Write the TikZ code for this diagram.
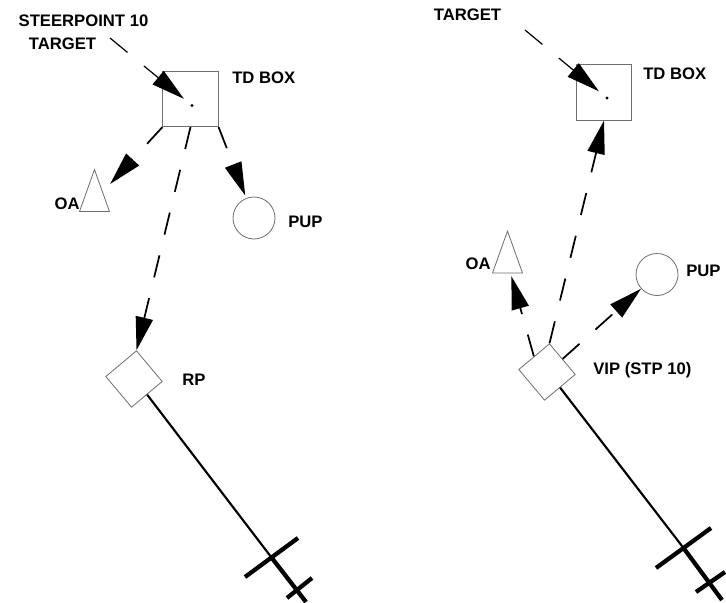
\documentclass[tikz,border=0pt]{standalone}
\usepackage{fontspec}
\setmainfont{Liberation Sans}
\usetikzlibrary{arrows.meta,shapes.geometric}
\definecolor{grey}{cmyk}{0,0,0,0.65}

\begin{document}
\begin{tikzpicture}[x=0.75pt,y=-0.75pt]
    \tikzset{%
      tdbox/.style={rectangle, draw=grey, line width=0.6pt, inner sep=0pt,
        minimum size=41.5pt},
      aim/.style={circle, fill=black, inner sep=0pt, minimum size=2.4pt},
      fix/.style={rectangle, draw=grey, line width=0.6pt, inner sep=0pt,
        minimum size=30pt, rotate=40},
      obst/.style={isosceles triangle, isosceles triangle stretches,
        shape border rotate=90, draw=grey, line width=0.6pt, inner sep=0pt,
        minimum width=22.5pt, minimum height=31.5pt},
      popup/.style={circle, draw=grey, line width=0.6pt, inner sep=0pt,
        minimum size=31.5pt},
      lbl/.style={font=\fontsize{12.5}{14}\selectfont\bfseries, inner sep=0pt},
      leg/.style={line width=1.3pt, dash pattern=on 17pt off 16pt,
        -{Triangle[length=25pt,width=13pt]}},
      cue/.style={line width=0.9pt, dash pattern=on 17pt off 16pt,
        -{Triangle[length=25pt,width=13pt]}},
      track/.style={line width=1.6pt},
      jet/.style={line width=3.2pt},
    }
    \useasboundingbox (0,0) rectangle (726,603);

    % left: steerpoint is the target
    \node[lbl] (stpL) at (83.5,21) {STEERPOINT 10};
    \node[lbl] (tgtL) at (62.5,43.5) {TARGET};
    \node[tdbox] (tdL) at (190.5,99) {};
    \node[aim] (dotL) at (192,105.5) {};
    \node[lbl, anchor=west] (tdlblL) at (232,77.5) {TD BOX};
    \node[obst] (oaL) at (94.5,201) {};
    \node[lbl, anchor=east] (oalblL) at (80,204) {OA};
    \node[popup] (pupL) at (254,218) {};
    \node[lbl, anchor=west] (puplblL) at (288,222) {PUP};
    \node[fix] (rpL) at (134,379) {};
    \node[lbl, anchor=west] (rplblL) at (182,380) {RP};
    \coordinate (cueL) at (110,38);
    \coordinate (acL) at (271.5,557.5);
    \coordinate (finL) at (299.5,588);
    \coordinate (endL) at (306,602);

    \draw[cue, shorten >=6.5pt] (cueL) -- (dotL);
    \draw[leg, shorten >=8pt] (tdL.south west) -- (oaL);
    \draw[leg, shorten >=2pt] (tdL.south east) -- (pupL);
    \draw[leg] (tdL.south) -- (rpL.north east);
    \draw[track] (rpL.south) -- (acL);
    \draw[jet] (acL) -- (endL);
    \draw[jet] (acL) ++(-26.5,19.5) -- ++(53,-39);
    \draw[jet] (finL) ++(-12.5,10) -- ++(25,-20);

    % right: steerpoint is the VIP
    \node[lbl] (tgtR) at (467.5,14.5) {TARGET};
    \node[tdbox] (tdR) at (604,92.5) {};
    \node[aim] (dotR) at (607,98) {};
    \node[lbl, anchor=west] (tdlblR) at (643,74) {TD BOX};
    \node[obst] (oaR) at (507.5,262.5) {};
    \node[lbl, anchor=east] (oalblR) at (491,263.5) {OA};
    \node[popup] (pupR) at (657,274.5) {};
    \node[lbl, anchor=west] (puplblR) at (686,271) {PUP};
    \node[fix] (vipR) at (547,372) {};
    \node[lbl, anchor=west] (viplblR) at (593,370.5) {VIP (STP 10)};
    \coordinate (cueR) at (525,30);
    \coordinate (acR) at (683.5,548);
    \coordinate (finR) at (710.5,582);
    \coordinate (endR) at (722,600);

    \draw[cue, shorten >=6.5pt] (cueR) -- (dotR);
    \draw[leg, shorten >=2pt] (vipR.north) -- (oaR);
    \draw[leg] (vipR.east) -- (pupR);
    \draw[leg] (vipR.north east) -- (tdR.south);
    \draw[track] (vipR.south) -- (acR);
    \draw[jet] (acR) -- (endR);
    \draw[jet] (acR) ++(-27.5,20) -- ++(55,-40);
    \draw[jet] (finR) ++(-14.5,10) -- ++(29,-20);
\end{tikzpicture}
\end{document}
